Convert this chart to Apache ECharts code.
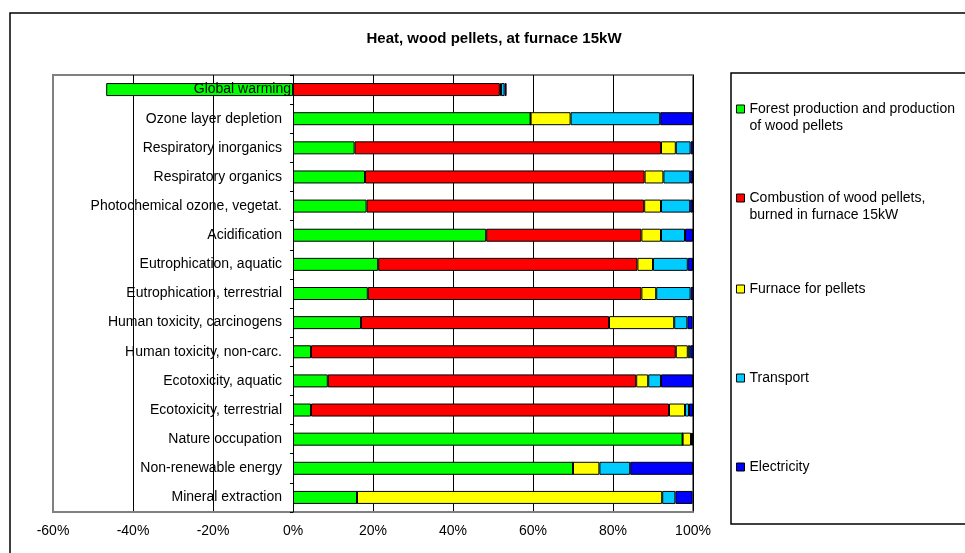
<!DOCTYPE html>
<html>
<head>
<meta charset="utf-8">
<script src="https://cdn.jsdelivr.net/npm/echarts@6/dist/echarts.min.js"></script>
<style>html,body{margin:0;padding:0;background:#fff}#c{width:965px;height:553px}</style>
</head>
<body>
<div id="c"></div>
<script>
var categories = ['Global warming','Ozone layer depletion','Respiratory inorganics','Respiratory organics','Photochemical ozone, vegetat.','Acidification','Eutrophication, aquatic','Eutrophication, terrestrial','Human toxicity, carcinogens','Human toxicity, non-carc.','Ecotoxicity, aquatic','Ecotoxicity, terrestrial','Nature occupation','Non-renewable energy','Mineral extraction'];
var seriesNames = ['Forest production and production\nof wood pellets','Combustion of wood pellets,\nburned in furnace 15kW','Furnace for pellets','Transport','Electricity'];
var forest      = [-46.7, 59.4, 15.4, 18.0, 18.4, 48.3, 21.3, 18.7, 17.0, 4.5, 8.7, 4.5, 97.4, 70.0, 16.0];
var combustion  = [51.7, 0, 76.6, 69.9, 69.4, 38.8, 64.8, 68.4, 62.0, 91.2, 77.1, 89.5, 0, 0, 0];
var furnace     = [0.3, 10.0, 3.7, 4.7, 4.2, 4.9, 3.9, 3.7, 16.3, 3.0, 3.0, 4.0, 2.1, 6.6, 76.3];
var transport   = [0.9, 22.4, 3.7, 6.7, 7.3, 6.0, 8.7, 8.6, 3.3, 0.6, 3.2, 1.0, 0.3, 7.7, 3.3];
var electricity = [0.5, 8.2, 0.7, 0.7, 0.7, 2.0, 1.3, 0.7, 1.3, 0.8, 8.0, 1.0, 0.2, 15.7, 4.3];
var xTicks = [-60, -40, -20, 0, 20, 40, 60, 80, 100];
var titleText = 'Heat, wood pellets, at furnace 15kW';

var colors = ['#00FF00', '#FF0000', '#FFFF00', '#00CCFF', '#0000FF'];
var allData = [forest, combustion, furnace, transport, electricity];
var FONT = '"Liberation Sans", Arial, sans-serif';

var GRID_LEFT = 53, GRID_RIGHT = 272;
var plotWidth = 965 - GRID_LEFT - GRID_RIGHT;
// offset that places the category axis on the 0% line (derived from the axis range)
var zeroOffset = -plotWidth * (0 - xTicks[0]) / (xTicks[xTicks.length - 1] - xTicks[0]);

var chart = echarts.init(document.getElementById('c'), null, {renderer: 'canvas'});

var legendCenters = [109, 198, 289, 378, 467];
var legends = seriesNames.map(function (n, i) {
  var twoLine = n.indexOf('\n') >= 0;
  return {
    data: [n],
    orient: 'vertical',
    left: 736,
    top: twoLine ? legendCenters[i] - 25.5 : legendCenters[i] - 8.5,
    padding: 0,
    itemWidth: 8,
    itemHeight: 8,
    itemGap: 0,
    icon: 'rect',
    selectedMode: false,
    formatter: function (name) { return name.indexOf('\n') >= 0 ? ' \n' + name : name; },
    itemStyle: {borderColor: '#000', borderWidth: 1},
    textStyle: {fontFamily: FONT, fontSize: 14, color: '#000', lineHeight: 17}
  };
});

var series = seriesNames.map(function (n, i) {
  return {
    name: n,
    type: 'bar',
    stack: 'total',
    barWidth: 13,
    data: allData[i],
    itemStyle: {color: colors[i], borderColor: '#000', borderWidth: 1},
    emphasis: {disabled: true},
    animation: false
  };
});

var option = {
  animation: false,
  backgroundColor: '#fff',
  color: colors,
  title: {
    text: titleText,
    left: 489,
    textAlign: 'center',
    top: 26,
    textStyle: {fontFamily: FONT, fontSize: 15, fontWeight: 'bold', color: '#000'}
  },
  legend: legends,
  grid: {
    left: GRID_LEFT, right: GRID_RIGHT, top: 75, bottom: 41,
    containLabel: false,
    outerBoundsMode: 'none',
    show: true, borderColor: '#808080', borderWidth: 2, backgroundColor: 'transparent'
  },
  xAxis: {
    type: 'value',
    min: xTicks[0],
    max: xTicks[xTicks.length - 1],
    interval: 20,
    axisLine: {show: true, lineStyle: {color: '#808080', width: 2}},
    axisTick: {show: false},
    splitLine: {show: true, lineStyle: {color: ['#808080', '#000', '#000', '#000', '#000', '#000', '#000', '#000', '#000'], width: 1}},
    axisLabel: {
      formatter: function (v) { return v + '%'; },
      margin: 12, color: '#000', fontFamily: FONT, fontSize: 14
    }
  },
  yAxis: {
    type: 'category',
    inverse: true,
    position: 'left',
    offset: zeroOffset,
    data: categories,
    z: 10,
    axisLine: {show: true, onZero: false, lineStyle: {color: '#000', width: 1}},
    axisTick: {show: true, length: 3, lineStyle: {color: '#000'}},
    axisLabel: {
      margin: 2, color: '#000', fontFamily: FONT, fontSize: 14,
      formatter: function (v, idx) { return idx === 0 ? '{g|' + v + '}' : '{n|' + v + '}'; },
      rich: {
        g: {fontFamily: FONT, fontSize: 14, color: '#000', padding: [0, 0, 0, 0]},
        n: {fontFamily: FONT, fontSize: 14, color: '#000', padding: [0, 9, 0, 0]}
      }
    },
    splitLine: {show: false}
  },
  graphic: [
    {type: 'rect', z: -1, shape: {x: 10, y: 13, width: 1000, height: 600}, style: {fill: 'none', stroke: '#000', lineWidth: 1.5}},
    {type: 'rect', z: -1, shape: {x: 731, y: 73, width: 300, height: 451}, style: {fill: 'none', stroke: '#000', lineWidth: 1.5}}
  ],
  series: series
};
chart.setOption(option);
</script>
</body>
</html>
